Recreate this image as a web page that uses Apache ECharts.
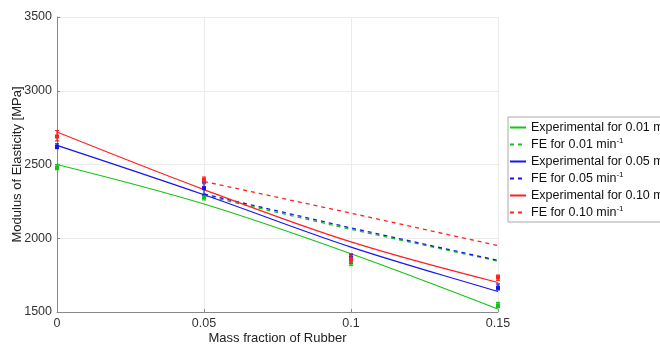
<!DOCTYPE html>
<html>
<head>
<meta charset="utf-8">
<script src="https://cdn.jsdelivr.net/npm/echarts@6/dist/echarts.min.js"></script>
<style>html,body{margin:0;padding:0;background:#fff}#c{width:660px;height:346px}</style>
</head>
<body>
<div id="c"></div>
<script>
var massFractions = [0, 0.05, 0.1, 0.15];
var feFractions = [0.05, 0.1, 0.15];
var yTicks = [1500, 2000, 2500, 3000, 3500];

var expFit001 = [2500, 2232, 1895, 1520];
var expFit005 = [2630, 2295, 1940, 1640];
var expFit010 = [2720, 2330, 1975, 1700];

var fe001 = [2290, 2060, 1845];
var fe005 = [2300, 2070, 1850];
var fe010 = [2385, 2170, 1950];

// measured points: mean, low, high
var meas001 = [[2480, 2465, 2500], [2280, 2260, 2300], [1835, 1815, 1855], [1545, 1530, 1565]];
var meas005 = [[2620, 2608, 2640], [2340, 2295, 2380], [1870, 1850, 1890], [1665, 1650, 1690]];
var meas010 = [[2690, 2660, 2730], [2395, 2370, 2415], [1860, 1830, 1895], [1735, 1715, 1750]];

var names = ['Experimental for 0.01 min', 'FE for 0.01 min', 'Experimental for 0.05 min', 'FE for 0.05 min', 'Experimental for 0.10 min', 'FE for 0.10 min'];
var GREEN = '#15c415', BLUE = '#1515ee', RED = '#ff2020';

function pairs(xs, ys) { return xs.map(function (x, i) { return [x, ys[i]]; }); }
function errData(ms) { return massFractions.map(function (x, i) { return [x, ms[i][0], ms[i][1], ms[i][2]]; }); }

function errRender(color) {
  return function (params, api) {
    var x = api.value(0);
    var pm = api.coord([x, api.value(1)]);
    var pl = api.coord([x, api.value(2)]);
    var ph = api.coord([x, api.value(3)]);
    var st = { stroke: color, lineWidth: 1.2 };
    return {
      type: 'group',
      children: [
        { type: 'line', shape: { x1: pl[0], y1: pl[1], x2: ph[0], y2: ph[1] }, style: st },
        { type: 'line', shape: { x1: pl[0] - 2, y1: pl[1], x2: pl[0] + 2, y2: pl[1] }, style: st },
        { type: 'line', shape: { x1: ph[0] - 2, y1: ph[1], x2: ph[0] + 2, y2: ph[1] }, style: st },
        { type: 'rect', shape: { x: pm[0] - 2, y: pm[1] - 2, width: 4, height: 4 }, style: { fill: color } }
      ]
    };
  };
}

function expSeries(name, color, data) {
  return { name: name, type: 'line', data: pairs(massFractions, data), smooth: 0.35, symbol: 'none',
    lineStyle: { color: color, width: 1.2 }, itemStyle: { color: color }, z: 3 };
}
function feSeries(name, color, data) {
  return { name: name, type: 'line', data: pairs(feFractions, data), symbol: 'none',
    lineStyle: { color: color, width: 1.3, type: [4, 4] }, itemStyle: { color: color }, z: 3 };
}
function errSeries(color, ms) {
  return { type: 'custom', data: errData(ms), renderItem: errRender(color), z: 4, silent: true,
    encode: { x: 0, y: [1, 2, 3] } };
}

var chart = echarts.init(document.getElementById('c'));
chart.setOption({
  animation: false,
  textStyle: { fontFamily: 'Liberation Sans, Arial, sans-serif' },
  grid: { left: 57, right: 162, top: 17, bottom: 34, containLabel: false, outerBoundsMode: 'none' },
  xAxis: {
    type: 'value', min: 0, max: 0.15, interval: 0.05,
    name: 'Mass fraction of Rubber', nameLocation: 'middle', nameGap: 20, nameMoveOverlap: false,
    nameTextStyle: { fontSize: 13, color: '#222' },
    axisLine: { lineStyle: { color: '#888' } },
    axisTick: { length: 3, inside: true, lineStyle: { color: '#888' } },
    axisLabel: { fontSize: 12.5, color: '#333', margin: 5, formatter: function (v) { return String(+v.toFixed(2)); } },
    splitLine: { show: true, lineStyle: { color: '#ebebeb' } }
  },
  yAxis: {
    type: 'value', min: 1500, max: 3500, interval: 500,
    name: 'Modulus of Elasticity [MPa]', nameLocation: 'middle', nameGap: 33, nameMoveOverlap: false,
    nameTextStyle: { fontSize: 13, color: '#222' },
    axisLine: { show: true, lineStyle: { color: '#888' } },
    axisTick: { show: true, length: 3, inside: true, lineStyle: { color: '#888' } },
    axisLabel: { fontSize: 12.5, color: '#333', margin: 5, formatter: function (v) { return yTicks.indexOf(v) >= 0 ? String(v) : ''; } },
    splitLine: { show: true, lineStyle: { color: '#ebebeb' } }
  },
  legend: {
    orient: 'vertical', left: 508, top: 117,
    itemWidth: 16, itemHeight: 8, itemGap: 3,
    padding: [3, 6, 3, 1],
    borderColor: '#aaa', borderWidth: 1,
    backgroundColor: '#fff',
    itemStyle: { opacity: 0 },
    data: names,
    textStyle: {
      fontSize: 12.5, color: '#111',
      rich: { s: { fontSize: 8, padding: [0, 0, 7, 0], color: '#111' } }
    },
    formatter: function (n) { return n + '{s|-1}'; }
  },
  series: [
    expSeries(names[0], GREEN, expFit001),
    feSeries(names[1], GREEN, fe001),
    expSeries(names[2], BLUE, expFit005),
    feSeries(names[3], BLUE, fe005),
    expSeries(names[4], RED, expFit010),
    feSeries(names[5], RED, fe010),
    errSeries(GREEN, meas001),
    errSeries(BLUE, meas005),
    errSeries(RED, meas010)
  ]
});
</script>
</body>
</html>
